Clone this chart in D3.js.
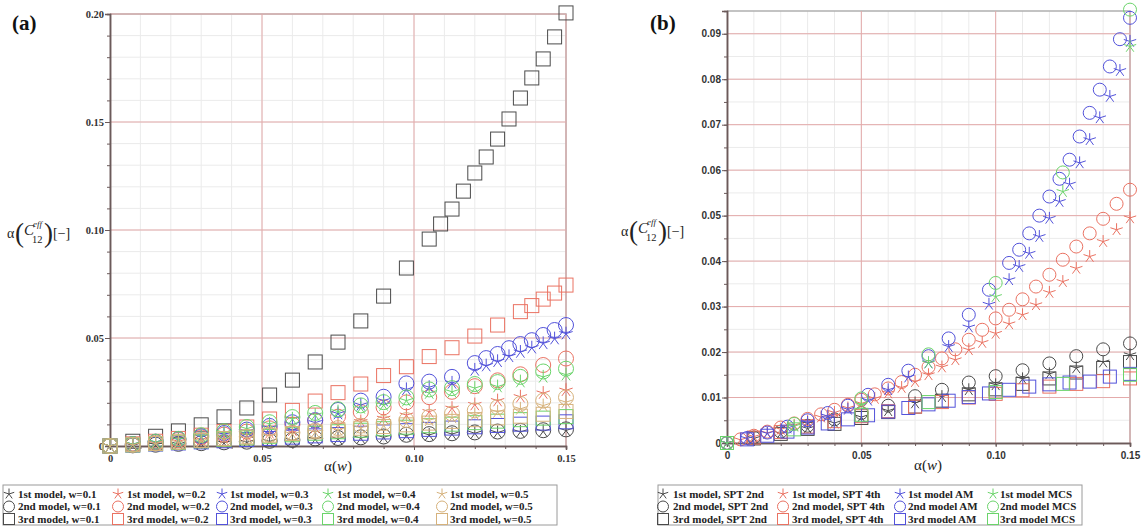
<!DOCTYPE html>
<html>
<head>
<meta charset="utf-8">
<script src="https://cdn.jsdelivr.net/npm/d3@7"></script>
<style>
  html, body { margin: 0; padding: 0; background: #fff; }
  svg { display: block; }
</style>
</head>
<body>
<svg id="chart" width="1143" height="530"></svg>
<script>
// ---------------- shared labels ----------------
const modelNames = ["1st model", "2nd model", "3rd model"];
const weightLabels = ["0.1", "0.2", "0.3", "0.4", "0.5"];
const methodLabels = ["SPT 2nd", "SPT 4th", "AM", "MCS"];

// ---------------- panel (a): ticks ----------------
const xTicksA = [0, 0.05, 0.10, 0.15];
const xTickLabelsA = ["0", "0.05", "0.10", "0.15"];
const yTicksA = [0, 0.05, 0.10, 0.15, 0.20];
const yTickLabelsA = ["0", "0.05", "0.10", "0.15", "0.20"];

// α(w) sampling grids used in panel (a)
const wGrid = [0, 0.0075, 0.015, 0.0225, 0.03, 0.0375, 0.045, 0.0525, 0.06, 0.0675, 0.075,
  0.0825, 0.09, 0.0975, 0.105, 0.1125, 0.12, 0.1275, 0.135, 0.1425, 0.15];
const wGridBlack3 = [0, 0.0075, 0.015, 0.0225, 0.03, 0.0375, 0.045, 0.0525, 0.06, 0.0675, 0.075,
  0.0825, 0.09, 0.0975, 0.105, 0.10875, 0.1125, 0.11625, 0.12, 0.12375, 0.1275, 0.13125,
  0.135, 0.13875, 0.1425, 0.14625, 0.15];
const wGridBlue = [0, 0.0075, 0.015, 0.0225, 0.03, 0.0375, 0.045, 0.0525, 0.06, 0.0675, 0.075,
  0.0825, 0.09, 0.0975, 0.105, 0.1125, 0.12, 0.12375, 0.1275, 0.13125, 0.135, 0.13875,
  0.1425, 0.14625, 0.15];
const wGridRed3 = [0, 0.0075, 0.015, 0.0225, 0.03, 0.0375, 0.045, 0.0525, 0.06, 0.0675, 0.075,
  0.0825, 0.09, 0.0975, 0.105, 0.1125, 0.12, 0.1275, 0.135, 0.13875, 0.1425, 0.14625, 0.15];

// panel (a) values: a<model>_w<weight>
const a1_w01 = [0, 0.0002, 0.0005, 0.0008, 0.0011, 0.0014, 0.0017, 0.0021, 0.0025, 0.0031, 0.0033,
  0.0036, 0.0040, 0.0048, 0.0051, 0.0055, 0.0059, 0.0062, 0.0065, 0.0068, 0.0072];
const a2_w01 = [0, 0.0003, 0.0006, 0.0010, 0.0013, 0.0017, 0.0020, 0.0024, 0.0028, 0.0035, 0.0037,
  0.0040, 0.0044, 0.0052, 0.0055, 0.0059, 0.0063, 0.0067, 0.0070, 0.0073, 0.0077];
const a3_w01 = [0, 0.0022, 0.0045, 0.0070, 0.0098, 0.0135, 0.0176, 0.0236, 0.0305, 0.0389, 0.0481,
  0.0579, 0.0694, 0.0824, 0.0958, 0.1028, 0.1097, 0.1180, 0.1264, 0.1338, 0.1421, 0.1514,
  0.1611, 0.1704, 0.1792, 0.1894, 0.2005];

const a1_w02 = [0, 0.0006, 0.0013, 0.0021, 0.0030, 0.0040, 0.0050, 0.0061, 0.0073, 0.0086, 0.0099,
  0.0113, 0.0128, 0.0143, 0.0159, 0.0175, 0.0192, 0.0210, 0.0228, 0.0245, 0.0258];
const a2_w02 = [0, 0.0008, 0.0017, 0.0028, 0.0040, 0.0053, 0.0067, 0.0082, 0.0099, 0.0117, 0.0136,
  0.0157, 0.0179, 0.0202, 0.0226, 0.0251, 0.0277, 0.0304, 0.0332, 0.0375, 0.0405];
const a3_w02 = [0, 0.0010, 0.0022, 0.0035, 0.0050, 0.0067, 0.0088, 0.0125, 0.0165, 0.0208, 0.0247,
  0.0287, 0.0326, 0.0367, 0.0414, 0.0455, 0.0509, 0.0560, 0.0622, 0.0650, 0.0680, 0.0708, 0.0745];

const a1_w03 = [0, 0.0008, 0.0018, 0.0029, 0.0041, 0.0054, 0.0068, 0.0084, 0.0099, 0.0108, 0.0150,
  0.0190, 0.0210, 0.0262, 0.0272, 0.0292, 0.0352, 0.0372, 0.0392, 0.0415, 0.0435, 0.0455,
  0.0475, 0.0497, 0.0520];
const a2_w03 = [0, 0.0009, 0.0020, 0.0032, 0.0045, 0.0060, 0.0076, 0.0093, 0.0110, 0.0120, 0.0167,
  0.0210, 0.0228, 0.0290, 0.0298, 0.0320, 0.0384, 0.0407, 0.0426, 0.0453, 0.0472, 0.0490,
  0.0514, 0.0537, 0.0560];
const a3_w03 = [0, 0.0004, 0.0009, 0.0014, 0.0019, 0.0024, 0.0030, 0.0035, 0.0041, 0.0047, 0.0053,
  0.0059, 0.0065, 0.0071, 0.0077, 0.0083, 0.0089, 0.0095, 0.0101, 0.0106, 0.0112];

const a1_w04 = [0, 0.0008, 0.0018, 0.0030, 0.0045, 0.0062, 0.0080, 0.0102, 0.0125, 0.0143, 0.0159,
  0.0176, 0.0190, 0.0210, 0.0245, 0.0251, 0.0268, 0.0275, 0.0298, 0.0320, 0.0330];
const a2_w04 = [0, 0.0009, 0.0020, 0.0033, 0.0050, 0.0068, 0.0088, 0.0110, 0.0134, 0.0153, 0.0170,
  0.0188, 0.0203, 0.0225, 0.0262, 0.0268, 0.0287, 0.0296, 0.0320, 0.0345, 0.0358];
const a3_w04 = [0, 0.0005, 0.0011, 0.0017, 0.0024, 0.0031, 0.0038, 0.0045, 0.0052, 0.0059, 0.0066,
  0.0073, 0.0080, 0.0087, 0.0094, 0.0101, 0.0108, 0.0115, 0.0122, 0.0129, 0.0136];

const a1_w05 = [0, 0.0005, 0.0010, 0.0016, 0.0023, 0.0030, 0.0038, 0.0046, 0.0055, 0.0064, 0.0074,
  0.0084, 0.0095, 0.0107, 0.0119, 0.0132, 0.0145, 0.0158, 0.0172, 0.0187, 0.0203];
const a2_w05 = [0, 0.0005, 0.0011, 0.0018, 0.0026, 0.0034, 0.0043, 0.0052, 0.0062, 0.0072, 0.0083,
  0.0094, 0.0106, 0.0120, 0.0135, 0.0150, 0.0165, 0.0180, 0.0195, 0.0210, 0.0225];
const a3_w05 = [0, 0.0006, 0.0012, 0.0019, 0.0026, 0.0034, 0.0042, 0.0050, 0.0058, 0.0066, 0.0074,
  0.0082, 0.0090, 0.0098, 0.0106, 0.0114, 0.0122, 0.0130, 0.0138, 0.0147, 0.0160];

// ---------------- panel (b): ticks ----------------
const xTicksB = [0, 0.05, 0.10, 0.15];
const xTickLabelsB = ["0", "0.05", "0.10", "0.15"];
const yTicksB = [0, 0.01, 0.02, 0.03, 0.04, 0.05, 0.06, 0.07, 0.08, 0.09];
const yTickLabelsB = ["0", "0.01", "0.02", "0.03", "0.04", "0.05", "0.06", "0.07", "0.08", "0.09"];

// α(w) grids per method in panel (b)
const wSpt2 = [0, 0.01, 0.02, 0.03, 0.04, 0.05, 0.06, 0.07, 0.08, 0.09, 0.10, 0.11, 0.12, 0.13, 0.14, 0.15];
const wSpt4 = [0, 0.005, 0.01, 0.015, 0.02, 0.025, 0.03, 0.035, 0.04, 0.045, 0.05, 0.055, 0.06,
  0.065, 0.07, 0.075, 0.08, 0.085, 0.09, 0.095, 0.10, 0.105, 0.11, 0.115, 0.12, 0.125, 0.13,
  0.135, 0.14, 0.145, 0.15];
const wAm = [0, 0.0075, 0.015, 0.0225, 0.03, 0.0375, 0.045, 0.0525, 0.06, 0.0675, 0.075, 0.0825,
  0.09, 0.0975, 0.105, 0.10875, 0.1125, 0.11625, 0.12, 0.12375, 0.1275, 0.13125, 0.135,
  0.13875, 0.1425, 0.14625, 0.15];
const wAmBox = [0, 0.0075, 0.015, 0.0225, 0.03, 0.0375, 0.045, 0.0525, 0.06, 0.0675, 0.075,
  0.0825, 0.09, 0.0975, 0.105, 0.1125, 0.12, 0.1275, 0.135, 0.1425, 0.15];
const wMcs = [0, 0.025, 0.05, 0.075, 0.10, 0.125, 0.15];

// panel (b) values: b<model>_<method>
const b1_spt2 = [0, 0.0010, 0.0021, 0.0032, 0.0044, 0.0057, 0.0071, 0.0088, 0.0102, 0.0117, 0.0128,
  0.0141, 0.0152, 0.0165, 0.0178, 0.0194];
const b2_spt2 = [0, 0.0012, 0.0025, 0.0038, 0.0052, 0.0066, 0.0082, 0.0103, 0.0117, 0.0133, 0.0147,
  0.0160, 0.0175, 0.0191, 0.0206, 0.0219];
const b3_spt2 = [0, 0.0010, 0.0020, 0.0031, 0.0042, 0.0055, 0.0068, 0.0080, 0.0093, 0.0107, 0.0118,
  0.0130, 0.0142, 0.0155, 0.0165, 0.0178];

const b1_spt4 = [0, 0.0007, 0.0014, 0.0022, 0.0030, 0.0039, 0.0048, 0.0057, 0.0067, 0.0077, 0.0087,
  0.0098, 0.0110, 0.0122, 0.0135, 0.0150, 0.0167, 0.0183, 0.0205, 0.0221, 0.0241, 0.0262,
  0.0282, 0.0304, 0.0331, 0.0355, 0.0384, 0.0410, 0.0443, 0.0469, 0.0495];
const b2_spt4 = [0, 0.0008, 0.0016, 0.0025, 0.0034, 0.0043, 0.0053, 0.0063, 0.0073, 0.0084, 0.0095,
  0.0107, 0.0120, 0.0134, 0.0150, 0.0167, 0.0186, 0.0206, 0.0227, 0.0249, 0.0274, 0.0293,
  0.0316, 0.0344, 0.0370, 0.0403, 0.0432, 0.0461, 0.0493, 0.0526, 0.0557];
const b3_spt4 = [0, 0.0012, 0.0024, 0.0036, 0.0048, 0.0059, 0.0070, 0.0080, 0.0090, 0.0100, 0.0108,
  0.0116, 0.0124, 0.0130, 0.0136, 0.0142];

const b1_am = [0, 0.0010, 0.0021, 0.0033, 0.0045, 0.0059, 0.0074, 0.0094, 0.0117, 0.0145, 0.0176,
  0.0212, 0.0255, 0.0305, 0.0359, 0.0388, 0.0417, 0.0454, 0.0494, 0.0531, 0.0569, 0.0616,
  0.0667, 0.0715, 0.0762, 0.0819, 0.0883];
const b2_am = [0, 0.0011, 0.0023, 0.0036, 0.0050, 0.0066, 0.0082, 0.0106, 0.0128, 0.0159, 0.0191,
  0.0230, 0.0282, 0.0337, 0.0396, 0.0425, 0.0461, 0.0500, 0.0542, 0.0581, 0.0623, 0.0674,
  0.0726, 0.0777, 0.0828, 0.0888, 0.0935];
const b3_am = [0, 0.0008, 0.0016, 0.0025, 0.0034, 0.0043, 0.0052, 0.0061, 0.0069, 0.0077, 0.0085,
  0.0093, 0.0101, 0.0109, 0.0117, 0.0124, 0.0129, 0.0133, 0.0135, 0.0146, 0.0152];

const b1_mcs = [0, 0.0037, 0.0085, 0.0176, 0.0322, 0.0553, 0.0872];
const b2_mcs = [0, 0.0042, 0.0098, 0.0195, 0.0352, 0.0595, 0.0953];
const b3_mcs = [0, 0.0030, 0.0062, 0.0090, 0.0112, 0.0130, 0.0150];

// ---------------- styling ----------------
const seriesColors = ["#4a4a4a", "#ea7262", "#5252da", "#6bd46b", "#d6b27c"];
const symbolKinds = ["asterisk", "circle", "box"];
const serif = "'Liberation Serif', 'DejaVu Serif', serif";
const sans = "'Liberation Sans', Arial, sans-serif";

const svg = d3.select("#chart");

function zip(xs, ys) { return xs.map((x, i) => ({ x, y: ys[i] })); }

// one plot symbol centred on (cx, cy)
function drawSymbol(g, kind, cx, cy, r, color) {
  if (kind === "circle") {
    g.append("circle").attr("cx", cx).attr("cy", cy).attr("r", r)
      .attr("fill", "none").attr("stroke", color).attr("stroke-width", 1);
  } else if (kind === "box") {
    g.append("rect").attr("x", cx - r).attr("y", cy - r).attr("width", 2 * r).attr("height", 2 * r)
      .attr("fill", "none").attr("stroke", color).attr("stroke-width", 1);
  } else {
    let p = "";
    for (let k = 0; k < 5; k++) {
      const a = -Math.PI / 2 + k * 2 * Math.PI / 5;
      p += `M${cx},${cy}L${cx + r * Math.cos(a)},${cy + r * Math.sin(a)}`;
    }
    g.append("path").attr("d", p).attr("fill", "none").attr("stroke", color).attr("stroke-width", 1);
  }
}

function drawPanel(cfg) {
  const x = d3.scaleLinear().domain(cfg.xDomain).range(cfg.xRange);
  const y = d3.scaleLinear().domain(cfg.yDomain).range(cfg.yRange);
  const g = svg.append("g");
  const [x0, x1] = cfg.xRange, [y0, y1] = cfg.yRange;

  // minor grid
  g.append("g").selectAll("line").data(cfg.xMinor).join("line")
    .attr("x1", d => x(d)).attr("x2", d => x(d)).attr("y1", y0).attr("y2", y1)
    .attr("stroke", "#ebebeb").attr("stroke-width", 1);
  g.append("g").selectAll("line").data(cfg.yMinor).join("line")
    .attr("y1", d => y(d)).attr("y2", d => y(d)).attr("x1", x0).attr("x2", x1)
    .attr("stroke", "#ebebeb").attr("stroke-width", 1);

  // frame (top / right)
  g.append("path").attr("d", `M${x0},${y1}H${x1}V${y0}`)
    .attr("fill", "none").attr("stroke", "#b0b0b0").attr("stroke-width", 1.5);

  // major grid
  g.append("g").selectAll("line").data(cfg.xTicks.slice(1)).join("line")
    .attr("x1", d => x(d)).attr("x2", d => x(d)).attr("y1", y0).attr("y2", y1)
    .attr("stroke", "#e4aaaa").attr("stroke-width", 1);
  g.append("g").selectAll("line").data(cfg.yTicks.slice(1)).join("line")
    .attr("y1", d => y(d)).attr("y2", d => y(d)).attr("x1", x0).attr("x2", x1)
    .attr("stroke", "#e4aaaa").attr("stroke-width", 1);

  // axes
  const xAxis = d3.axisBottom(x).tickValues(cfg.xTicks).tickSize(4)
    .tickFormat((d, i) => cfg.xTickLabels[i]);
  const yAxis = d3.axisLeft(y).tickValues(cfg.yTicks).tickSize(5)
    .tickFormat((d, i) => cfg.yTickLabels[i]);
  const xMinorAxis = d3.axisBottom(x).tickValues(cfg.xMinor).tickSize(3).tickFormat("");
  const yMinorAxis = d3.axisLeft(y).tickValues(cfg.yMinor).tickSize(3).tickFormat("");

  [xMinorAxis, xAxis].forEach(ax => {
    const a = g.append("g").attr("transform", `translate(0,${y0})`).call(ax);
    a.select(".domain").attr("stroke", "#6b5a5a").attr("stroke-width", 1.5);
    a.selectAll(".tick line").attr("stroke", "#6b5a5a");
    a.selectAll(".tick text").attr("font-family", cfg.tickFont).attr("font-weight", "bold")
      .attr("font-size", cfg.tickSize).attr("fill", "#333").attr("dy", "0.9em");
  });
  [yMinorAxis, yAxis].forEach(ax => {
    const a = g.append("g").attr("transform", `translate(${x0},0)`).call(ax);
    a.select(".domain").attr("stroke", "#6b5a5a").attr("stroke-width", 1.5);
    a.selectAll(".tick line").attr("stroke", "#6b5a5a");
    a.selectAll(".tick text").attr("font-family", cfg.tickFont).attr("font-weight", "bold")
      .attr("font-size", cfg.tickSize).attr("fill", "#333").attr("x", -6);
  });

  // data symbols
  const marks = g.append("g");
  cfg.series.forEach(s => {
    zip(s.x, s.y).forEach(p => drawSymbol(marks, s.kind, x(p.x), y(p.y), s.r, s.color));
  });

  // panel tag
  svg.append("text").attr("x", cfg.tagX).attr("y", 30).attr("font-family", serif)
    .attr("font-weight", "bold").attr("font-size", 21).attr("fill", "#111").text(cfg.tag);

  // x-axis title α(w)
  const xt = svg.append("text").attr("x", cfg.xTitle[0]).attr("y", cfg.xTitle[1])
    .attr("text-anchor", "middle").attr("font-family", serif).attr("font-size", 15).attr("fill", "#222");
  xt.append("tspan").text("α(");
  xt.append("tspan").attr("font-style", "italic").text("w");
  xt.append("tspan").text(")");

  // y-axis title α(C^eff_12)[−]
  const yl = svg.append("g").attr("transform", `translate(${cfg.yTitle[0]},${cfg.yTitle[1]})`)
    .attr("font-family", serif).attr("fill", "#222");
  yl.append("text").attr("x", 0).attr("y", 5).attr("font-size", 14).text("α");
  yl.append("text").attr("x", 8).attr("y", 9).attr("font-size", 27).attr("font-weight", 200).text("(");
  yl.append("text").attr("x", 17).attr("y", 2).attr("font-size", 15).attr("font-style", "italic").text("C");
  yl.append("text").attr("x", 26).attr("y", -6).attr("font-size", 9).attr("font-style", "italic").text("eff");
  yl.append("text").attr("x", 25).attr("y", 10).attr("font-size", 10.5).text("12");
  yl.append("text").attr("x", 37).attr("y", 9).attr("font-size", 27).attr("font-weight", 200).text(")");
  yl.append("text").attr("x", 46).attr("y", 5).attr("font-size", 14).text("[−]");

  // legend
  const L = cfg.legend;
  svg.append("rect").attr("x", L.x0).attr("y", 485).attr("width", L.x1 - L.x0).attr("height", 40)
    .attr("fill", "#fff").attr("stroke", "#9a9a9a").attr("stroke-width", 1);
  const rowsY = [494, 506.5, 519];
  L.entries.forEach(e => {
    const cy = rowsY[e.row];
    drawSymbol(svg, e.kind, L.symX[e.col], cy, 5.5, e.color);
    svg.append("text").attr("x", L.textX[e.col]).attr("y", cy + 3.8)
      .attr("font-family", serif).attr("font-weight", "bold").attr("font-size", 11)
      .attr("fill", "#222").text(e.label);
  });
}

// ---------------- assemble panel (a) ----------------
const seriesA = [
  { m: 0, w: 0, x: wGrid, y: a1_w01 }, { m: 1, w: 0, x: wGrid, y: a2_w01 }, { m: 2, w: 0, x: wGridBlack3, y: a3_w01 },
  { m: 0, w: 1, x: wGrid, y: a1_w02 }, { m: 1, w: 1, x: wGrid, y: a2_w02 }, { m: 2, w: 1, x: wGridRed3, y: a3_w02 },
  { m: 0, w: 2, x: wGridBlue, y: a1_w03 }, { m: 1, w: 2, x: wGridBlue, y: a2_w03 }, { m: 2, w: 2, x: wGrid, y: a3_w03 },
  { m: 0, w: 3, x: wGrid, y: a1_w04 }, { m: 1, w: 3, x: wGrid, y: a2_w04 }, { m: 2, w: 3, x: wGrid, y: a3_w04 },
  { m: 0, w: 4, x: wGrid, y: a1_w05 }, { m: 1, w: 4, x: wGrid, y: a2_w05 }, { m: 2, w: 4, x: wGrid, y: a3_w05 }
].map(s => ({ x: s.x, y: s.y, kind: symbolKinds[s.m], color: seriesColors[s.w], r: s.m === 1 ? 7.5 : 7,
  m: s.m, col: s.w }));

function range(n, a) { return d3.range(n).map(i => +(i * a).toFixed(4)); }

drawPanel({
  tag: "(a)", tagX: 12,
  xDomain: [0, 0.15], xRange: [110, 566],
  yDomain: [0, 0.20], yRange: [446, 14],
  xTicks: xTicksA, xTickLabels: xTickLabelsA, yTicks: yTicksA, yTickLabels: yTickLabelsA,
  xMinor: range(16, 0.01), yMinor: range(21, 0.01),
  tickFont: serif, tickSize: 10.5,
  xTitle: [338, 471], yTitle: [7, 233],
  series: seriesA,
  legend: {
    x0: 3, x1: 557,
    symX: [9, 118, 222, 328, 442], textX: [18, 127, 230, 337, 450],
    entries: seriesA.map(s => ({ row: s.m, col: s.col, kind: s.kind, color: s.color,
      label: `${modelNames[s.m]}, w=${weightLabels[s.col]}` }))
  }
});

// ---------------- assemble panel (b) ----------------
const seriesB = [
  { m: 0, k: 0, x: wSpt2, y: b1_spt2 }, { m: 1, k: 0, x: wSpt2, y: b2_spt2 }, { m: 2, k: 0, x: wSpt2, y: b3_spt2 },
  { m: 0, k: 1, x: wSpt4, y: b1_spt4 }, { m: 1, k: 1, x: wSpt4, y: b2_spt4 }, { m: 2, k: 1, x: wSpt2, y: b3_spt4 },
  { m: 0, k: 2, x: wAm, y: b1_am }, { m: 1, k: 2, x: wAm, y: b2_am }, { m: 2, k: 2, x: wAmBox, y: b3_am },
  { m: 0, k: 3, x: wMcs, y: b1_mcs }, { m: 1, k: 3, x: wMcs, y: b2_mcs }, { m: 2, k: 3, x: wMcs, y: b3_mcs }
].map(s => ({ x: s.x, y: s.y, kind: symbolKinds[s.m], color: seriesColors[s.k], r: 6.5, m: s.m, col: s.k }));

drawPanel({
  tag: "(b)", tagX: 650,
  xDomain: [0, 0.15], xRange: [727, 1130],
  yDomain: [0, 0.095], yRange: [443, 11],
  xTicks: xTicksB, xTickLabels: xTickLabelsB, yTicks: yTicksB, yTickLabels: yTickLabelsB,
  xMinor: range(16, 0.01), yMinor: range(19, 0.005),
  tickFont: sans, tickSize: 10,
  xTitle: [928, 470], yTitle: [621, 231],
  series: seriesB,
  legend: {
    x0: 658, x1: 1082,
    symX: [663, 783, 900, 993], textX: [673, 792, 908, 1000],
    entries: seriesB.map(s => ({ row: s.m, col: s.col, kind: s.kind, color: s.color,
      label: s.col < 2 ? `${modelNames[s.m]}, ${methodLabels[s.col]}` : `${modelNames[s.m]} ${methodLabels[s.col]}` }))
  }
});
</script>
</body>
</html>
